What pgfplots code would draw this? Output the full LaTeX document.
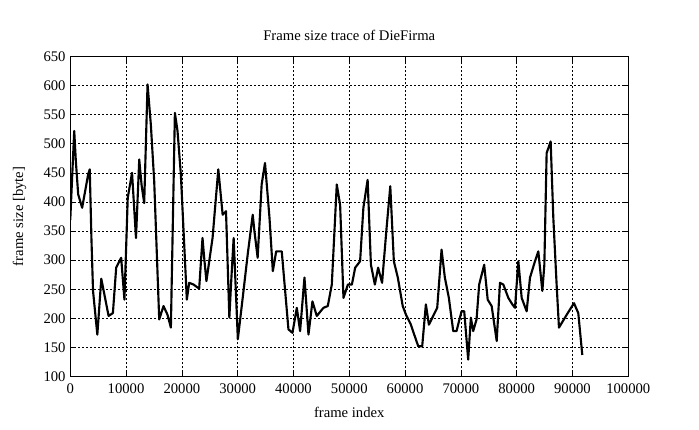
\documentclass[border=0pt]{standalone}
\usepackage{fontspec}
\setmainfont{Liberation Serif}
\usepackage{pgfplots}
\pgfplotsset{compat=1.18}
\begin{document}
\begin{tikzpicture}
\begin{axis}[
  name=ax,
  scale only axis,
  width=418.5pt, height=240pt,
  xmin=0, xmax=100000, ymin=100, ymax=650,
  xtick={0,10000,...,100000},
  ytick={100,150,...,650},
  scaled x ticks=false,
  /pgf/number format/assume math mode=true,
  xticklabel style={/pgf/number format/fixed,/pgf/number format/1000 sep={}, yshift=-2pt},
  yticklabel style={/pgf/number format/1000 sep={}},
  grid=major,
  major grid style={black, line width=0.5pt, dash pattern=on 1.5pt off 1.5pt},
  axis line style={black, line width=0.6pt},
  tick style={black, line width=0.5pt},
  major tick length=4pt,
  tick align=inside,
  title={Frame size trace of DieFirma},
  xlabel={frame index},
  ylabel={frame size [byte]},
  xlabel style={yshift=-3pt},
  ylabel style={yshift=6pt},
  font=\fontsize{11}{13}\selectfont,
  title style={yshift=2pt},
]
\addplot[black, line width=1.6pt, line join=round] coordinates {
(0,369) (355,447) (710,522) (1000,470) (1420,413) (2130,390) (3200,447) (3490,456)
(3790,338) (4080,247) (4850,172) (5560,268) (6870,204) (7640,209) (8230,287) (9120,304)
(9710,232) (10300,407) (11070,450) (11780,338) (12360,473) (12770,430) (13250,398) (13850,602)
(14440,533) (15040,436) (15940,198) (16710,221) (17430,206) (18030,184) (18750,553) (19220,522)
(19820,447) (20420,327) (20890,232) (21310,261) (22090,258) (23100,251) (23700,338) (24000,304)
(24400,264) (25500,338) (26530,456) (27310,378) (27910,384) (28510,201) (28810,258) (29280,338)
(30030,164) (30900,235) (31800,310) (32700,378) (33000,350) (33580,304) (34300,430) (34900,467)
(35700,373) (36300,281) (36900,315) (37900,315) (39100,181) (39820,175) (40600,218) (41190,178)
(41970,270) (42690,172) (43400,229) (44180,204) (45370,218) (46150,221) (46870,258) (47760,430)
(48360,395) (48960,235) (49760,258) (50470,258) (51060,287) (51940,298) (52530,390) (53290,438)
(53880,292) (54590,258) (55170,287) (55880,261) (56640,350) (57350,427) (57990,298) (58700,270)
(59580,221) (60170,206) (61050,189) (61640,172) (62360,152) (63070,152) (63730,224) (64270,189)
(65040,204) (65760,218) (66540,318) (67130,270) (67850,235) (68630,178) (69220,178) (70120,212)
(70600,212) (71310,129) (71790,201) (72210,178) (72810,198) (73280,258) (74180,292) (74810,232)
(75520,221) (76420,161) (77010,261) (77610,258) (78510,235) (79220,224) (79700,218) (80300,298)
(80900,235) (81790,212) (82390,270) (83280,298) (83880,315) (84600,247) (84960,292) (85370,484)
(86090,504) (86570,372) (87160,258) (87580,184) (88960,206) (90270,226) (91040,209) (91760,137)
};
\end{axis}
\path (ax.south west) ++(-52.7pt,-39.4pt) rectangle ++(524.25pt,321.75pt);
\end{tikzpicture}
\end{document}
